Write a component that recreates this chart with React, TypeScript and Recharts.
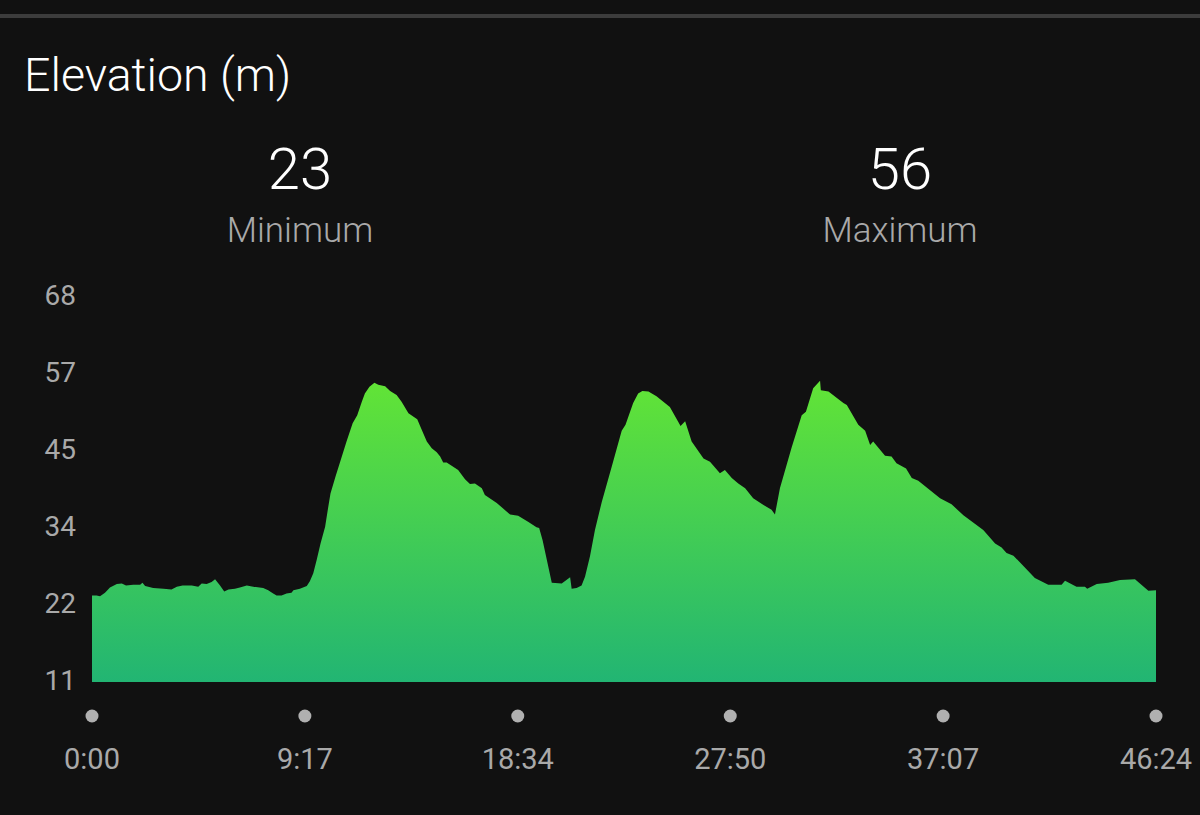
import { AreaChart, Area, XAxis, YAxis } from 'recharts'

const FONT = 'Roboto, sans-serif'
const BG = '#111111'
const MUTED = '#a9a9a9'

// seconds since the start
const seconds = [
  0, 12, 21, 34, 47, 65, 78, 89, 108, 126, 132, 139, 160, 187, 208, 222, 237, 261, 278, 287,
  300, 313, 322, 335, 346, 357, 374, 387, 405, 422, 448, 461, 474, 483, 496, 509, 522, 527, 544, 562,
  570, 579, 588, 598, 610, 617, 624, 637, 651, 666, 682, 694, 706, 714, 726, 739, 749, 767, 780,
  797, 810, 828, 851, 863, 876, 889, 902, 911, 919, 928, 958, 976, 989, 1002, 1020, 1028, 1059, 1094, 1115,
  1142, 1163, 1170, 1179, 1190, 1203, 1229, 1251, 1255, 1268, 1281, 1290, 1303, 1316, 1334, 1360, 1386, 1396, 1416, 1429,
  1440, 1456, 1477, 1512, 1540, 1552, 1569, 1600, 1617, 1643, 1656, 1674, 1691, 1709, 1730, 1757, 1778, 1787, 1800, 1831,
  1857, 1868, 1887, 1905, 1907, 1927, 1966, 1975, 2005, 2023, 2036, 2044, 2075, 2092, 2105, 2130, 2145, 2162, 2219, 2249,
  2280, 2332, 2363, 2380, 2393, 2411, 2467, 2502, 2537, 2546, 2576, 2598, 2604, 2629, 2659, 2690, 2729, 2764, 2784,
]

const elevation = [
  23.8, 23.8, 23.7, 24.2, 25.0, 25.5, 25.6, 25.3, 25.4, 25.4, 25.7, 25.2, 24.9, 24.8, 24.7, 25.1, 25.3, 25.3, 25.1, 25.6,
  25.5, 25.8, 26.2, 25.3, 24.4, 24.7, 24.8, 25.0, 25.3, 25.1, 24.9, 24.6, 24.1, 23.8, 23.8, 24.1, 24.2, 24.6, 24.8, 25.2,
  25.9, 27.1, 29.1, 31.5, 34.0, 36.5, 38.9, 41.4, 43.9, 46.6, 49.3, 50.5, 52.5, 53.7, 54.7, 55.3, 55.0, 54.8, 54.1,
  53.5, 52.5, 50.8, 49.9, 48.3, 46.6, 45.6, 45.0, 44.4, 43.5, 43.5, 42.4, 41.0, 40.3, 40.4, 39.7, 38.7, 37.5, 35.8, 35.6,
  34.7, 33.9, 33.8, 32.0, 29.1, 25.7, 25.6, 26.5, 24.8, 24.9, 25.3, 26.6, 29.6, 33.5, 37.7, 42.9, 48.2, 49.1, 52.3, 53.7,
  54.1, 54.0, 53.3, 51.7, 48.9, 49.6, 46.6, 44.1, 43.6, 41.9, 42.4, 41.2, 40.4, 39.7, 38.2, 37.2, 36.5, 35.8, 39.7, 45.8,
  50.5, 51.0, 54.5, 55.6, 54.2, 54.0, 52.3, 52.0, 49.1, 48.2, 46.1, 46.6, 44.5, 44.4, 43.4, 42.6, 41.2, 40.8, 38.2, 37.3,
  35.7, 33.5, 31.5, 30.9, 30.1, 29.7, 26.4, 25.4, 25.4, 26.0, 25.1, 25.1, 24.8, 25.5, 25.7, 26.1, 26.2, 24.5, 24.6,
]

const timeTicks = [0, 557, 1114, 1670, 2227, 2784]
const timeLabels = ['0:00', '9:17', '18:34', '27:50', '37:07', '46:24']
const elevationTicks = [11, 22.4, 33.8, 45.2, 56.6, 68]

const data = seconds.map((t, i) => ({ t, elevation: elevation[i] }))

// dot on the baseline row with the time label under it
function TimeTick({ x, payload }: any) {
  return (
    <g>
      <circle cx={x} cy={716} r={6.5} fill="#b0b0b0" />
      <text x={x} y={769} textAnchor="middle" fontSize={29} fill={MUTED} fontFamily={FONT}>
        {timeLabels[timeTicks.indexOf(payload.value)]}
      </text>
    </g>
  )
}

function Stat({ value, label, x }: { value: string; label: string; x: number }) {
  return (
    <div style={{ position: 'absolute', left: x - 150, top: 134, width: 300, textAlign: 'center' }}>
      <div style={{ fontSize: 58, lineHeight: '70px', fontWeight: 300, color: '#ffffff' }}>{value}</div>
      <div style={{ fontSize: 35, lineHeight: '46px', fontWeight: 300, color: MUTED, marginTop: 4 }}>{label}</div>
    </div>
  )
}

export default function App() {
  return (
    <div style={{ position: 'absolute', left: 0, top: 0, width: 1200, height: 815, overflow: 'hidden', backgroundColor: BG, fontFamily: FONT }}>
      <div style={{ position: 'absolute', left: 0, top: 14, width: 1200, height: 4, backgroundColor: '#3c3c3c' }} />
      <div style={{ position: 'absolute', left: 24, top: 46, fontSize: 46.5, lineHeight: '58px', fontWeight: 300, color: '#ffffff' }}>
        Elevation (m)
      </div>
      <Stat value="23" label="Minimum" x={300} />
      <Stat value="56" label="Maximum" x={900} />
      <div style={{ position: 'absolute', left: 0, top: 0 }}>
        <AreaChart width={1200} height={815} data={data} margin={{ top: 297, right: 44, bottom: 0, left: 32 }}>
          <defs>
            <linearGradient id="elevationFill" x1="0" y1="0" x2="0" y2="1">
              <stop offset="0%" stopColor="#62e436" />
              <stop offset="100%" stopColor="#22b573" />
            </linearGradient>
          </defs>
          <XAxis
            dataKey="t"
            type="number"
            domain={[0, 2784]}
            ticks={timeTicks}
            interval={0}
            height={133}
            axisLine={false}
            tickLine={false}
            tick={<TimeTick />}
          />
          <YAxis
            type="number"
            domain={[11, 68]}
            ticks={elevationTicks}
            interval={0}
            width={60}
            axisLine={false}
            tickLine={false}
            tickSize={0}
            tickMargin={16}
            tickFormatter={(v) => `${Math.round(v)}`}
            tick={{ fill: MUTED, fontSize: 28, fontFamily: FONT, dy: -2 }}
          />
          <Area
            type="linear"
            dataKey="elevation"
            stroke="none"
            fill="url(#elevationFill)"
            fillOpacity={1}
            dot={false}
            activeDot={false}
            isAnimationActive={false}
          />
        </AreaChart>
      </div>
    </div>
  )
}
